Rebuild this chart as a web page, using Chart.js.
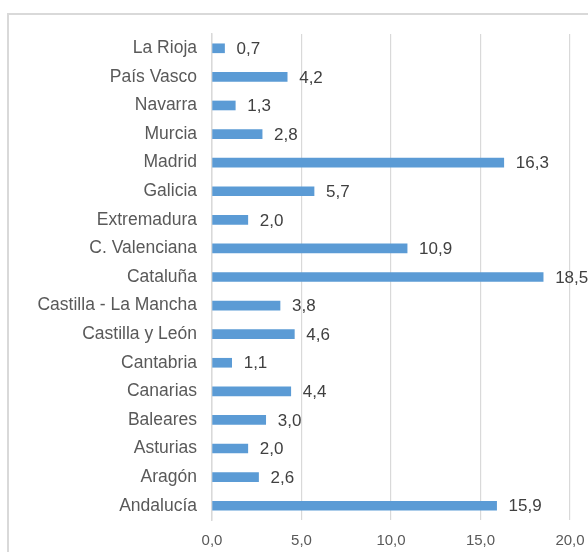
<!DOCTYPE html>
<html>
<head>
<meta charset="utf-8">
<script src="https://cdn.jsdelivr.net/npm/chart.js@4.4.0/dist/chart.umd.min.js"></script>
<style>
  body { margin: 0; background: #fff; overflow: hidden; }
  #wrap { position: relative; width: 588px; height: 552px; }
  #frame { position: absolute; left: 7px; top: 13px; width: 640px; height: 620px; border: 2px solid #d9d9d9; }
  canvas { position: absolute; left: 0; top: 0; }
</style>
</head>
<body>
<div id="wrap">
  <div id="frame"></div>
  <canvas id="chart" width="588" height="552"></canvas>
</div>
<script>
// regions, top to bottom as in the picture
const regions = [
    'La Rioja', 'País Vasco', 'Navarra', 'Murcia', 'Madrid', 'Galicia',
    'Extremadura', 'C. Valenciana', 'Cataluña', 'Castilla - La Mancha',
    'Castilla y León', 'Cantabria', 'Canarias', 'Baleares', 'Asturias',
    'Aragón', 'Andalucía'
];
const shares = [0.7, 4.2, 1.3, 2.8, 16.3, 5.7, 2.0, 10.9, 18.5, 3.8, 4.6, 1.1, 4.4, 3.0, 2.0, 2.6, 15.9];
const xTicks = [0, 5, 10, 15, 20];

const fontFamily = '"Liberation Sans", Arial, sans-serif';
const fmt = v => v.toFixed(1).replace('.', ',');

// draw the value next to every bar
const barLabels = {
    id: 'barLabels',
    afterDatasetsDraw(chart) {
        const ctx = chart.ctx;
        const meta = chart.getDatasetMeta(0);
        ctx.save();
        ctx.font = '17px ' + fontFamily;
        ctx.fillStyle = '#404040';
        ctx.textAlign = 'left';
        ctx.textBaseline = 'middle';
        meta.data.forEach((bar, i) => {
            ctx.fillText(fmt(shares[i]), bar.x + 12, bar.y + 1);
        });
        ctx.restore();
    }
};

new Chart(document.getElementById('chart'), {
    type: 'bar',
    data: {
        labels: regions,
        datasets: [{
            data: shares,
            backgroundColor: '#5B9BD5',
            borderWidth: 0,
            barThickness: 9
        }]
    },
    options: {
        indexAxis: 'y',
        responsive: false,
        animation: false,
        layout: { padding: { top: 34, right: 18, left: 0, bottom: 0 } },
        plugins: {
            legend: { display: false },
            tooltip: { enabled: false }
        },
        scales: {
            y: {
                afterFit: s => { s.width = 212; },
                grid: { display: false, drawTicks: false },
                border: { display: true, color: '#d9d9d9', width: 1.5 },
                ticks: {
                    autoSkip: false,
                    padding: 15,
                    color: '#595959',
                    font: { family: fontFamily, size: 17.5 }
                }
            },
            x: {
                min: 0,
                max: 20,
                afterFit: s => {
                    s.height = 32;
                    s.paddingLeft = 0;
                    s.paddingRight = 0; // let "20,0" hang past the plot edge
                },
                afterBuildTicks: s => { s.ticks = xTicks.map(v => ({ value: v })); },
                grid: { color: '#d9d9d9', lineWidth: 1.2, drawTicks: false },
                border: { display: false },
                ticks: {
                    padding: 12,
                    color: '#595959',
                    font: { family: fontFamily, size: 15 },
                    callback: v => fmt(v)
                }
            }
        }
    },
    plugins: [barLabels]
});
</script>
</body>
</html>
